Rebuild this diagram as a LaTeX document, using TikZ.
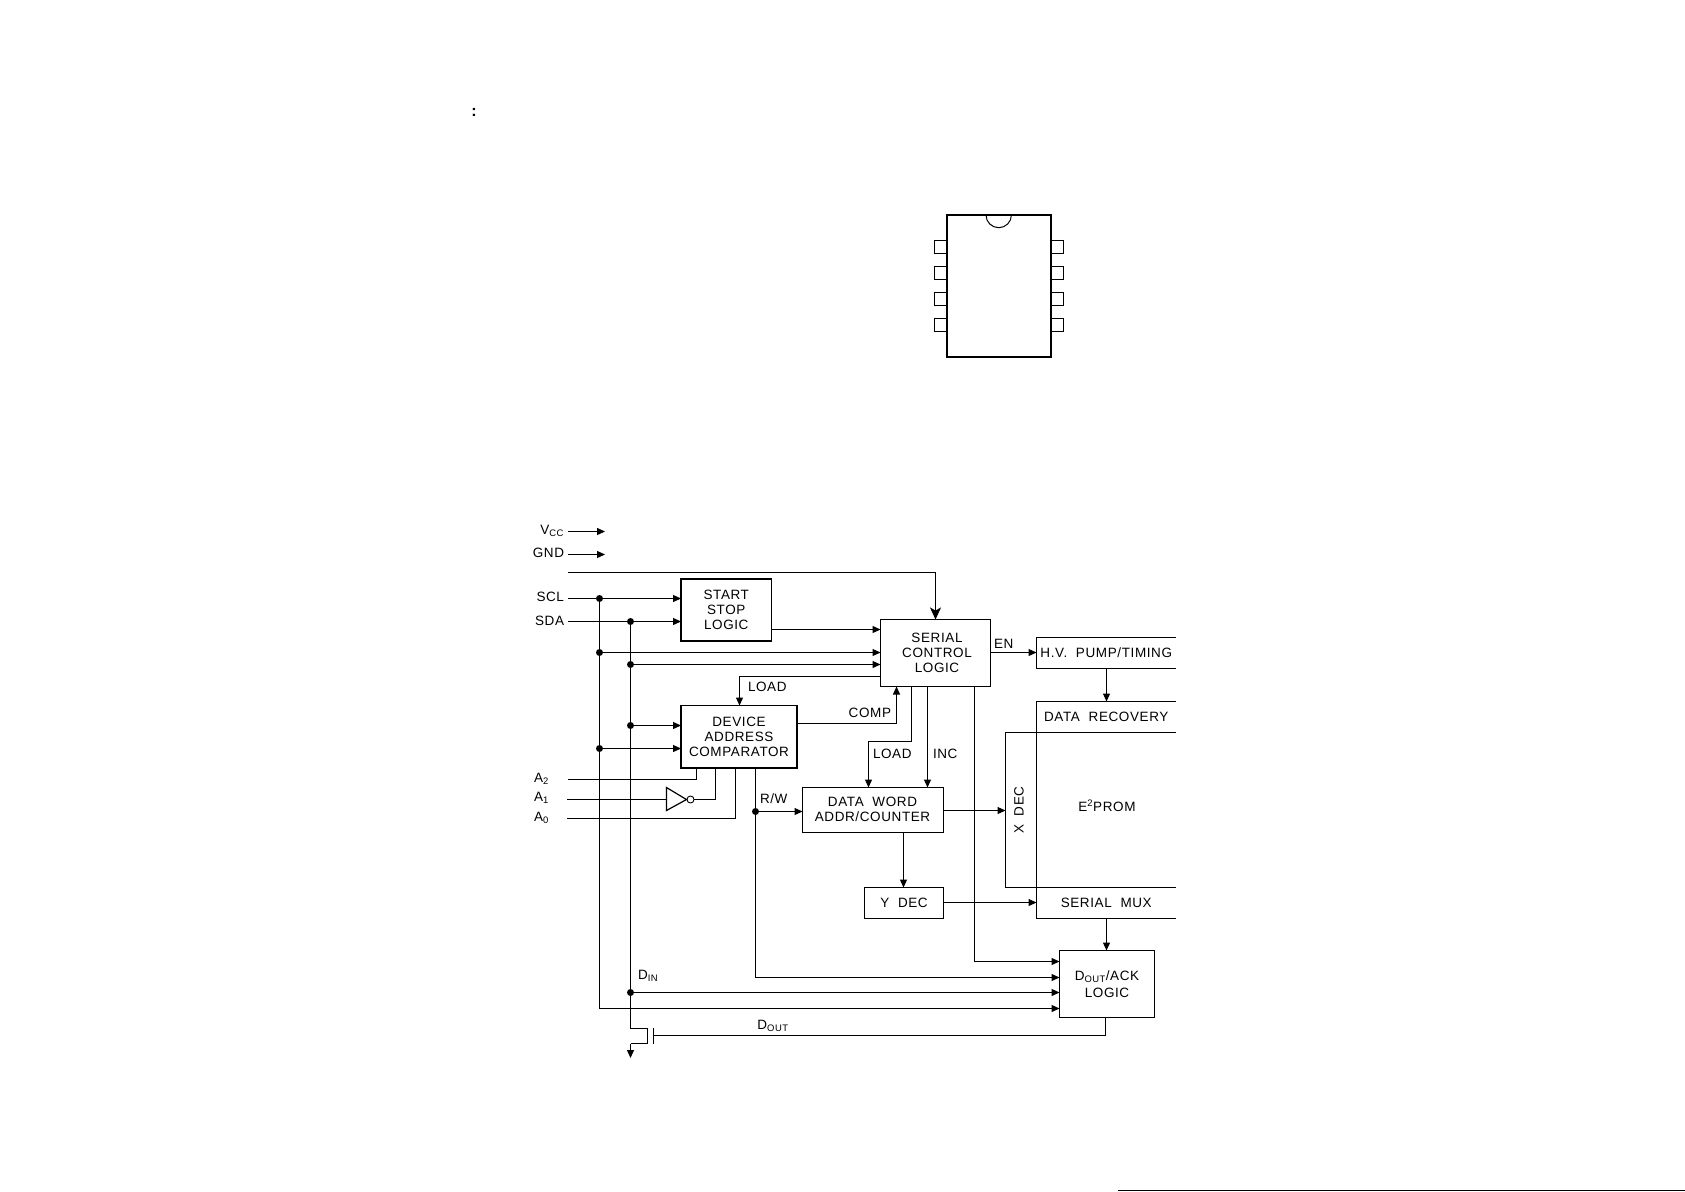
\documentclass[tikz,border=0pt]{standalone}
\usepackage{fontspec}
\setmainfont[LetterSpace=4.5,WordSpace=2]{Liberation Sans}
\usetikzlibrary{arrows.meta,positioning}
\tikzstyle{blk} = [draw=black, line width=1.2pt, align=center, font=\fontsize{13.5}{15}\selectfont, inner sep=0pt, outer sep=0pt]
\tikzstyle{heavy} = [blk, line width=1.8pt]
\tikzstyle{openblk} = [blk, draw=none]
\tikzstyle{lbl} = [font=\fontsize{13.5}{15}\selectfont, align=center, inner sep=0pt, outer sep=0pt]
\tikzstyle{dot} = [circle, fill=black, minimum size=7pt, inner sep=0pt, outer sep=0pt]
\tikzstyle{wire} = [line width=1.2pt]
\tikzstyle{arrow} = [wire,->,>={Triangle[length=8pt,width=7pt]}]
\tikzstyle{bigarrow} = [wire,->,>={Stealth[length=12pt,width=11pt,inset=3pt]}]

\begin{document}
\begin{tikzpicture}[x=1pt,y=-1pt]
\useasboundingbox (0,0) rectangle (1685,1191);
\node [lbl, font=\fontsize{16}{16}\bfseries\selectfont] (colon) at (474,112) {:};
% package outline
\draw [line width=2pt] (947,215) rectangle (1051,357);
\draw [line width=1pt] (986,215) arc [start angle=180, end angle=0, radius=12.7];
\draw [wire] (934.5,240.5) rectangle (947,253.5);
\draw [wire] (934.5,266.5) rectangle (947,279.5);
\draw [wire] (934.5,292.5) rectangle (947,305.5);
\draw [wire] (934.5,318.5) rectangle (947,331.5);
\draw [wire] (1051,240.5) rectangle (1063.5,253.5);
\draw [wire] (1051,266.5) rectangle (1063.5,279.5);
\draw [wire] (1051,292.5) rectangle (1063.5,305.5);
\draw [wire] (1051,318.5) rectangle (1063.5,331.5);
% blocks
\node [heavy, minimum width=90.5pt, minimum height=62pt] (start) at (726.25,610) {START\\STOP\\LOGIC};
\node [blk, minimum width=110pt, minimum height=67pt] (serial) at (935.5,653) {};
\node [lbl] (seriallbl) at (937,652.5) {SERIAL\\CONTROL\\LOGIC};
\node [heavy, minimum width=116pt, minimum height=62.5pt] (device) at (739,736.75) {DEVICE\\ADDRESS\\COMPARATOR};
\node [blk, minimum width=141pt, minimum height=45pt] (dataword) at (873,810) {};
\node [lbl] (datawordlbl) at (872.5,809) {DATA WORD\\ADDR/COUNTER};
\node [blk, minimum width=79pt, minimum height=31pt] (ydec) at (904,903) {Y DEC};
\node [blk, minimum width=31pt, minimum height=155pt] (xdec) at (1021,810) {};
\node [lbl] (xdeclbl) at (1019,810) {\rotatebox{90}{X DEC}};
\node [blk, minimum width=95pt, minimum height=67pt] (dout) at (1107,984) {D\textsubscript{OUT}/ACK\\[2pt]LOGIC};
\node [openblk, minimum width=139.5pt, minimum height=31pt] (pump) at (1106.25,653) {H.V. PUMP/TIMING};
\node [openblk, minimum width=139.5pt, minimum height=31pt] (recovery) at (1106.25,717) {DATA RECOVERY};
\node [openblk, minimum width=139.5pt, minimum height=155pt] (prom) at (1106.25,810) {};
\node [lbl] (promlbl) at (1107,806) {E\textsuperscript{2}PROM};
\node [openblk, minimum width=139.5pt, minimum height=31pt] (mux) at (1106.25,903) {SERIAL MUX};
\draw [wire] (pump.north east) -- (pump.north west) -- (pump.south west) -- (pump.south east);
\draw [wire] (recovery.north east) -- (recovery.north west) -- (mux.south west) -- (mux.south east);
\draw [wire] (recovery.south east) -- (recovery.south west);
\draw [wire] (mux.north east) -- (mux.north west);
% left pins
\node [lbl, anchor=east] (vcc) at (564,531) {V\textsubscript{CC}};
\node [lbl, anchor=east] (gnd) at (564,553) {GND};
\node [lbl, anchor=east] (scl) at (564,597) {SCL};
\node [lbl, anchor=east] (sda) at (564,621) {SDA};
\node [lbl, anchor=west] (atwo) at (534,779) {A\textsubscript{2}};
\node [lbl, anchor=west] (aone) at (534,798) {A\textsubscript{1}};
\node [lbl, anchor=west] (azero) at (534,818) {A\textsubscript{0}};
\coordinate (vccin) at (568,531.5);
\coordinate (vccout) at (605,531.5);
\coordinate (gndin) at (568,554.5);
\coordinate (gndout) at (605,554.5);
\coordinate (wpin) at (568,572.5);
\coordinate (sclin) at (568,598.5);
\coordinate (sdain) at (568,621.5);
\coordinate (atwoin) at (568,779.5);
\coordinate (aonein) at (567,799.5);
\coordinate (azeroin) at (567,818.5);
\draw [arrow] (vccin) -- (vccout);
\draw [arrow] (gndin) -- (gndout);
\draw [bigarrow] (wpin) -| (serial.north);
% tap points
\node [dot] (scla) at (599.5,598.5) {};
\node [dot] (sclb) at (599.5,652.5) {};
\node [dot] (sclc) at (599.5,748.5) {};
\node [dot] (sdaa) at (630.5,621.5) {};
\node [dot] (sdab) at (630.5,664.5) {};
\node [dot] (sdac) at (630.5,725.5) {};
\node [dot] (sdad) at (630.5,992.5) {};
\node [dot] (rw) at (755.5,811.5) {};
\coordinate (sclend) at (599.5,1008.5);
\coordinate (sdaend) at (630.5,1028.5);
\draw [wire] (scla) -- (sclend);
\draw [wire] (sdaa) -- (sdaend);
\draw [arrow] (sclin) -- (start.west |- sclin);
\draw [arrow] (sdain) -- (start.west |- sdain);
\draw [arrow] (sclb) -- (serial.west |- sclb);
\draw [arrow] (sdab) -- (serial.west |- sdab);
\draw [arrow] (sdac) -- (device.west |- sdac);
\draw [arrow] (sclc) -- (device.west |- sclc);
\draw [arrow] (sdad) -- (dout.west |- sdad);
\draw [arrow] (sclend) -- (dout.west |- sclend);
\coordinate (startout) at (771.5,629.5);
\draw [arrow] (startout) -- (serial.west |- startout);
% load and comp
\coordinate (loadtap) at (880.5,676.5);
\coordinate (loadcmp) at (739.5,705.5);
\draw [arrow] (loadtap) -| (loadcmp);
\node [lbl, anchor=west] (loada) at (748,687) {LOAD};
\coordinate (compout) at (797,723.5);
\coordinate (compin) at (896.5,686.5);
\draw [arrow] (compout) -| (compin);
\node [lbl, anchor=east] (comp) at (891,713) {COMP};
\coordinate (loadout) at (911.5,686.5);
\coordinate (loadbend) at (868.5,741.5);
\coordinate (loadin) at (868.5,787.5);
\draw [arrow] (loadout) |- (loadbend) -- (loadin);
\node [lbl, anchor=west] (loadb) at (873,754) {LOAD};
\coordinate (incout) at (927.5,686.5);
\draw [arrow] (incout) -- (incout |- dataword.north);
\node [lbl, anchor=west] (inc) at (933,754) {INC};
\coordinate (ackout) at (974.5,686.5);
\coordinate (ackin) at (1059.5,961.5);
\draw [arrow] (ackout) |- (ackin);
\coordinate (enout) at (990.5,652.5);
\draw [arrow] (enout) -- (pump.west |- enout);
\node [lbl, anchor=west] (en) at (994,644) {EN};
\coordinate (pumpout) at (1106.5,668.5);
\draw [arrow] (pumpout) -- (pumpout |- recovery.north);
\coordinate (xdecout) at (943.5,810.5);
\draw [arrow] (xdecout) -- (xdec.west |- xdecout);
\coordinate (ydecin) at (903.5,832.5);
\draw [arrow] (ydecin) -- (ydecin |- ydec.north);
\coordinate (muxin) at (943.5,902.5);
\draw [arrow] (muxin) -- (mux.west |- muxin);
\coordinate (muxout) at (1106.5,918.5);
\draw [arrow] (muxout) -- (muxout |- dout.north);
% address pins
\coordinate (invin) at (666.5,799.5);
\coordinate (invtop) at (666.5,787.5);
\coordinate (invbot) at (666.5,810.5);
\coordinate (invtip) at (686.5,799.5);
\draw [wire] (invtop) -- (invtip) -- (invbot) -- cycle;
\node [circle, draw=black, line width=0.9pt, minimum size=7pt, inner sep=0pt, outer sep=0pt] (invout) at (690.5,799.5) {};
\draw [wire] (aonein) -- (invin);
\draw [wire] (atwoin) -| (696.5,768);
\draw [wire] (invout.east) -| (715.5,768);
\draw [wire] (azeroin) -| (735.5,768);
% read write
\coordinate (rwtop) at (755.5,768);
\coordinate (rwend) at (755.5,977.5);
\draw [wire] (rwtop) -- (rw);
\draw [arrow] (rw) -- (dataword.west |- rw);
\draw [arrow] (rw) -- (rwend) -- (dout.west |- rwend);
\node [lbl, anchor=west] (rwlbl) at (760,799) {R/W};
\node [lbl, anchor=west] (din) at (638,976) {D\textsubscript{IN}};
% output stage
\coordinate (drain) at (647.5,1028.5);
\coordinate (source) at (647.5,1043.5);
\coordinate (ret) at (630.5,1043.5);
\coordinate (gateup) at (653.5,1027.5);
\coordinate (gatedn) at (653.5,1043.5);
\coordinate (gate) at (653.5,1035.5);
\coordinate (ground) at (630.5,1058);
\coordinate (doutout) at (1105.5,1017.5);
\draw [wire] (sdaend) -- (drain) -- (source) -- (ret);
\draw [arrow] (ret) -- (ground);
\draw [wire] (gateup) -- (gatedn);
\draw [wire] (gate) -| (doutout);
\node [lbl] (doutlbl) at (773,1026) {D\textsubscript{OUT}};
% rule along the page foot
\coordinate (footl) at (1118,1190.5);
\coordinate (footr) at (1685,1190.5);
\draw [wire] (footl) -- (footr);
\end{tikzpicture}
\end{document}
